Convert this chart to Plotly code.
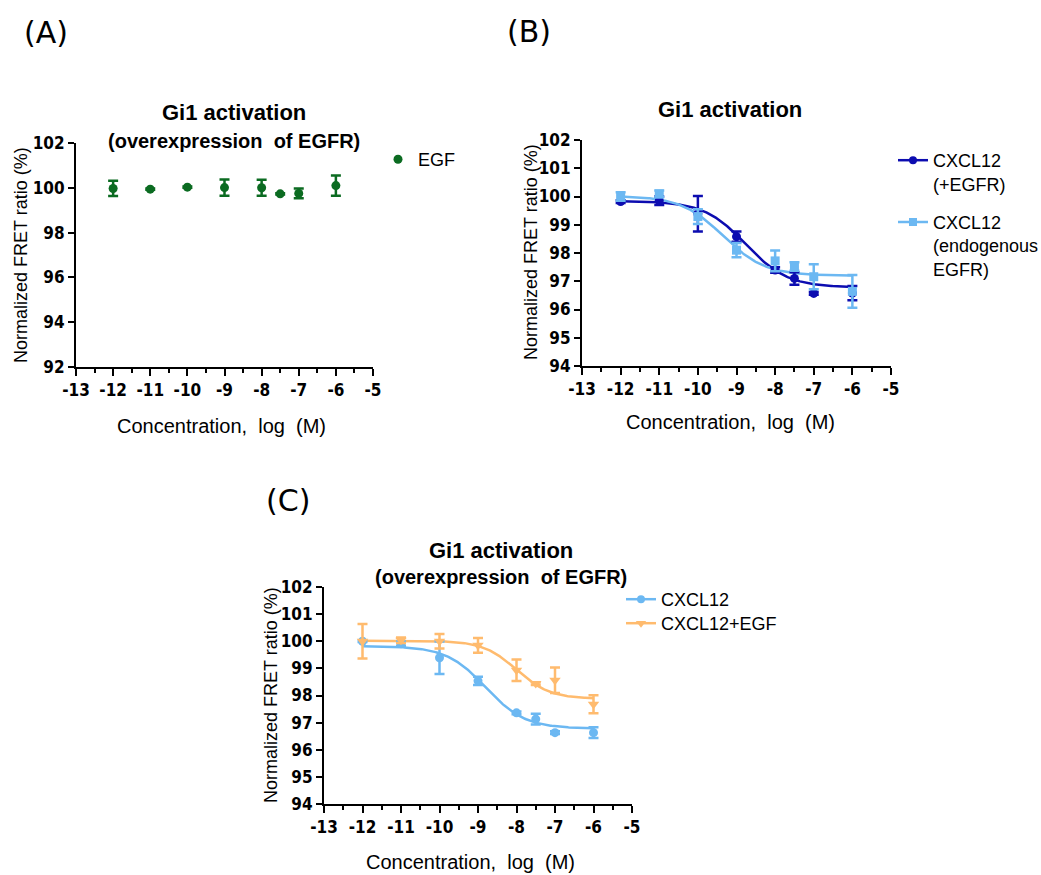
import numpy as np
import plotly.graph_objects as go

W, H = 1041, 875

# ---------------- data ----------------
# Panel A: EGF (overexpression of EGFR)
conc_A = [-12, -11, -10, -9, -8, -7.5, -7, -6]
egf_A_mean = [99.97, 99.94, 100.03, 100.01, 100.0, 99.73, 99.75, 100.10]
egf_A_err = [0.34, 0.03, 0.03, 0.36, 0.36, 0.03, 0.22, 0.45]

# Panel B
conc_B = [-12, -11, -10, -9, -8, -7.5, -7, -6]
cx_egfr_mean = [99.82, 99.85, 99.39, 98.58, 97.40, 97.10, 96.57, 96.58]
cx_egfr_err = [0.05, 0.15, 0.63, 0.18, 0.10, 0.22, 0.05, 0.25]
cx_endo_mean = [100.00, 100.09, 99.29, 98.10, 97.72, 97.52, 97.16, 96.64]
cx_endo_err = [0.15, 0.12, 0.26, 0.25, 0.37, 0.15, 0.44, 0.58]
# sigmoidal fit parameters: top, bottom, logEC50, hill
fit_egfr = [99.84, 96.78, -8.76, 0.80]
fit_endo = [100.02, 97.20, -9.35, 0.80]

# Panel C
conc_C = [-12, -11, -10, -9, -8, -7.5, -7, -6]
cx_mean = [100.00, 99.91, 99.39, 98.54, 97.36, 97.13, 96.63, 96.63]
cx_err = [0.03, 0.08, 0.60, 0.15, 0.05, 0.20, 0.05, 0.20]
cxegf_mean = [100.00, 100.04, 100.00, 99.85, 98.93, 98.44, 98.56, 97.68]
cxegf_err = [0.64, 0.10, 0.27, 0.27, 0.40, 0.05, 0.47, 0.33]
fit_cx = [99.82, 96.78, -8.80, 0.85]
fit_cxegf = [100.02, 97.88, -8.00, 1.00]

# ---------------- styles ----------------
GREEN = "#0b6b21"
DBLUE = "#0c0cb0"
LBLUE = "#6cb8f2"
ORANGE = "#ffbb6e"
FONT = "Liberation Sans, Arial, sans-serif"
TICKFONT = "Liberation Sans Narrow, DejaVu Sans Condensed, Liberation Sans, sans-serif"


def px_x(p):
    return p / W


def px_y(p):
    return 1 - p / H


def sigmoid(x, p):
    top, bottom, ec, hill = p
    return bottom + (top - bottom) / (1 + 10 ** ((x - ec) * hill))


xfit = np.linspace(-12, -6, 200)

fig = go.Figure()


def points(x, y, err, color, symbol, size, name, xa, ya, legend=None, show=False):
    fig.add_trace(go.Scatter(
        x=x, y=y, mode="markers", name=name,
        marker=dict(color=color, symbol=symbol, size=size, line=dict(width=0)),
        error_y=dict(type="data", array=err, visible=True, color=color,
                     thickness=2.5, width=5),
        xaxis=xa, yaxis=ya, showlegend=show, legend=legend, legendgroup=name,
        cliponaxis=False,
    ))


def curve(p, color, xa, ya):
    fig.add_trace(go.Scatter(
        x=xfit, y=sigmoid(xfit, p), mode="lines",
        line=dict(color=color, width=2.5), xaxis=xa, yaxis=ya,
        showlegend=False, hoverinfo="skip",
    ))


def legend_entry(color, symbol, size, name, legend, xa, ya):
    fig.add_trace(go.Scatter(
        x=[None], y=[None], mode="lines+markers", name=name,
        marker=dict(color=color, symbol=symbol, size=size),
        line=dict(color=color, width=2.5),
        xaxis=xa, yaxis=ya, legend=legend, legendgroup=name, showlegend=True,
    ))


# Panel A
points(conc_A, egf_A_mean, egf_A_err, GREEN, "circle", 9, "EGF", "x", "y",
       legend="legend", show=True)

# Panel B
curve(fit_egfr, DBLUE, "x2", "y2")
curve(fit_endo, LBLUE, "x2", "y2")
points(conc_B, cx_egfr_mean, cx_egfr_err, DBLUE, "circle", 9, "egfr_pts", "x2", "y2")
points(conc_B, cx_endo_mean, cx_endo_err, LBLUE, "square", 9, "endo_pts", "x2", "y2")
legend_entry(DBLUE, "circle", 8, "CXCL12<br>(+EGFR)", "legend2", "x2", "y2")
legend_entry(LBLUE, "square", 8, "CXCL12<br>(endogenous<br>EGFR)", "legend2", "x2", "y2")

# Panel C
curve(fit_cx, LBLUE, "x3", "y3")
curve(fit_cxegf, ORANGE, "x3", "y3")
points(conc_C, cx_mean, cx_err, LBLUE, "circle", 9, "cx_pts", "x3", "y3")
points(conc_C, cxegf_mean, cxegf_err, ORANGE, "triangle-down", 10, "cxegf_pts", "x3", "y3")
legend_entry(LBLUE, "circle", 8, "CXCL12", "legend3", "x3", "y3")
legend_entry(ORANGE, "triangle-down", 9, "CXCL12+EGF", "legend4", "x3", "y3")

# ---------------- axes ----------------
tickfont = dict(family=TICKFONT, size=17, color="black", weight="bold")


def xaxis_cfg(x0, x1, anchor):
    return dict(
        domain=[px_x(x0), px_x(x1)], anchor=anchor, range=[-13, -5],
        tickmode="array", tickvals=list(range(-13, -4)),
        ticktext=[str(v) for v in range(-13, -4)],
        ticks="outside", ticklen=7, tickwidth=2, tickcolor="black",
        minor=dict(ticks="outside", tickvals=[v + 0.5 for v in range(-13, -5)],
                   ticklen=4, tickwidth=2, tickcolor="black", showgrid=False),
        showline=True, linewidth=2, linecolor="black", showgrid=False,
        zeroline=False, tickfont=tickfont, fixedrange=True, automargin=False,
    )


def yaxis_cfg(y0, y1, anchor, rng, dtick):
    return dict(
        domain=[px_y(y1), px_y(y0)], anchor=anchor, range=rng,
        tickmode="linear", tick0=rng[0], dtick=dtick,
        ticks="outside", ticklen=6, tickwidth=2, tickcolor="black",
        showline=True, linewidth=2, linecolor="black", showgrid=False,
        zeroline=False, tickfont=tickfont, fixedrange=True, automargin=False,
    )


legfont = dict(family=FONT, size=18, color="black")
layout = dict(
    width=W, height=H, margin=dict(l=0, r=0, t=0, b=0, pad=0, autoexpand=False),
    paper_bgcolor="white", plot_bgcolor="white",
    font=dict(family=FONT, color="black"),
    xaxis=xaxis_cfg(76, 373, "y"),
    yaxis=yaxis_cfg(143, 367, "x", [92, 102], 2),
    xaxis2=xaxis_cfg(582, 891, "y2"),
    yaxis2=yaxis_cfg(140, 366, "x2", [94, 102], 1),
    xaxis3=xaxis_cfg(324, 632, "y3"),
    yaxis3=yaxis_cfg(587, 804, "x3", [94, 102], 1),
    legend=dict(x=px_x(378), y=px_y(141), xanchor="left", yanchor="top",
                font=legfont, bgcolor="rgba(0,0,0,0)", itemwidth=30),
    legend2=dict(x=px_x(893), y=px_y(142), xanchor="left", yanchor="top",
                 font=legfont, bgcolor="rgba(0,0,0,0)", valign="top",
                 tracegroupgap=12, itemwidth=30),
    legend3=dict(x=px_x(621), y=px_y(581), xanchor="left", yanchor="top",
                 font=legfont, bgcolor="rgba(0,0,0,0)", itemwidth=30),
    legend4=dict(x=px_x(621), y=px_y(605), xanchor="left", yanchor="top",
                 font=legfont, bgcolor="rgba(0,0,0,0)", itemwidth=30),
)
fig.update_layout(**layout)


def text(s, x, y, size, bold=False, angle=0, family=FONT):
    fig.add_annotation(
        text=s, x=px_x(x), y=px_y(y), xref="paper", yref="paper",
        xanchor="center", yanchor="middle", showarrow=False, textangle=angle,
        font=dict(family=family, size=size, color="black",
                  weight="bold" if bold else "normal"),
    )


# panel labels
LBLFONT = "DejaVu Sans, Liberation Sans, sans-serif"
text("(A)", 46, 32, 30, family=LBLFONT)
text("(B)", 529, 31, 30, family=LBLFONT)
text("(C)", 288, 500, 30, family=LBLFONT)

# titles
text("Gi1 activation", 234, 112, 22, bold=True)
text("(overexpression\u00a0 of EGFR)", 234, 141, 20, bold=True)
text("Gi1 activation", 730, 110, 22, bold=True)
text("Gi1 activation", 501, 550, 22, bold=True)
text("(overexpression\u00a0 of EGFR)", 501, 577, 20, bold=True)

# axis titles
xt = "Concentration,\u00a0 log\u00a0 (M)"
yt = "Normalized FRET ratio (%)"
text(xt, 221, 426, 20)
text(xt, 730, 422, 20)
text(xt, 470, 862, 20)
text(yt, 21, 255, 18, angle=-90)
text(yt, 531, 252, 18, angle=-90)
text(yt, 271, 695, 18, angle=-90)

fig.write_html(
    "out.html",
    config={"displayModeBar": False},
    post_script="document.body.style.margin='0';document.body.style.overflow='hidden';",
)
